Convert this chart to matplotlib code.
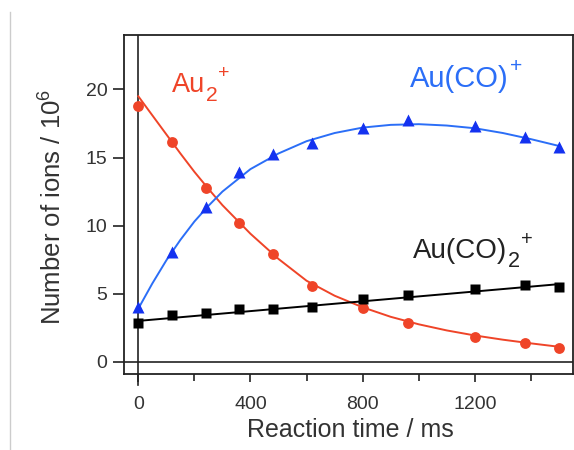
import matplotlib
matplotlib.use("Agg")
import matplotlib.pyplot as plt
from matplotlib.lines import Line2D
import matplotlib.transforms as mtransforms

plt.rcParams['font.family'] = ['Liberation Sans', 'DejaVu Sans']
plt.rcParams['mathtext.fontset'] = 'custom'
plt.rcParams['mathtext.rm'] = 'Liberation Sans'
plt.rcParams['mathtext.it'] = 'Liberation Sans:italic'
plt.rcParams['mathtext.bf'] = 'Liberation Sans:bold'

# measured data (reaction time in ms, number of ions / 1e6)
t_meas = [0, 120, 240, 360, 480, 620, 800, 960, 1200, 1380, 1500]
au2 = [18.75, 16.13, 12.75, 10.17, 7.92, 5.59, 3.92, 2.87, 1.84, 1.35, 1.03]
auco = [4.04, 8.09, 11.35, 13.97, 15.25, 16.06, 17.16, 17.72, 17.28, 16.54, 15.81]
auco2 = [2.87, 3.43, 3.56, 3.85, 3.85, 4.00, 4.63, 4.93, 5.32, 5.62, 5.47]

# fit curves
t_fit = [0, 50, 100, 150, 200, 250, 300, 400, 500, 600, 700, 800, 900, 1000, 1100, 1200, 1300, 1400, 1500]
au2_fit = [19.5, 18.1, 16.7, 15.3, 13.95, 12.7, 11.5, 9.4, 7.55, 5.95, 4.85, 4.0, 3.3, 2.75, 2.3, 1.93, 1.62, 1.35, 1.1]
auco_fit = [3.9, 5.75, 7.45, 8.95, 10.3, 11.45, 12.5, 14.15, 15.3, 16.2, 16.8, 17.2, 17.4, 17.45, 17.35, 17.15, 16.8, 16.35, 15.85]
t_lin = [0, 1500]
auco2_fit = [3.0, 5.7]

x_major = [0, 400, 800, 1200]
x_minor = [200, 600, 1000, 1400]
y_major = [0, 5, 10, 15, 20]

RED = '#ef4428'
BLUE_M = '#1432f0'
BLUE_L = '#2b6ef7'
DARK = '#222222'

fig = plt.figure(figsize=(5.74, 4.5), dpi=100)
ax = fig.add_axes([124/574, 1-374/450, (573-124)/574, (374-35)/450])

ax.axhline(0, color=DARK, lw=1.2, zorder=1)
ax.axvline(0, color=DARK, lw=1.2, zorder=1)
trans = mtransforms.blended_transform_factory(ax.transData, ax.transAxes)
ax.add_line(Line2D([0, 0], [0, -11/339], transform=trans, color=DARK, lw=1.2, clip_on=False))

ax.plot(t_fit, au2_fit, color=RED, lw=1.4, zorder=2)
ax.plot(t_fit, auco_fit, color=BLUE_L, lw=1.4, zorder=2)
ax.plot(t_lin, auco2_fit, color='black', lw=1.4, zorder=2)

ax.plot(t_meas, au2, 'o', color=RED, ms=7.8, mec='none', zorder=3)
ax.plot(t_meas, auco, '^', color=BLUE_M, ms=8.3, mec='none', zorder=3)
ax.plot(t_meas, auco2, 's', color='black', ms=7.6, mec='none', zorder=3)

ax.set_xlim(-51, 1550)
ax.set_ylim(-0.9, 24.0)
ax.set_xticks(x_major)
ax.set_xticks(x_minor, minor=True)
ax.set_yticks(y_major)
ax.tick_params(axis='both', which='major', labelsize=14, color=DARK, labelcolor='#333333',
               width=1.2, direction='out')
ax.tick_params(axis='y', which='major', length=8, pad=4)
ax.tick_params(axis='x', which='major', length=6, pad=10)
ax.tick_params(axis='x', which='minor', length=5, width=1.2, color=DARK)
for s in ax.spines.values():
    s.set_linewidth(1.3)
    s.set_color(DARK)

fig.text(350/574, 1-430/450, 'Reaction time / ms', fontsize=18, ha='center', va='center', color='#333333')
fig.text(53/574, 1-207/450, 'Number of ions / 10$^{6}$', fontsize=18.5, ha='center', va='center',
         rotation=90, color='#333333')


def species_label(x, y, main, sub, color, fs):
    t = ax.text(x, y, main, fontsize=fs, color=color, ha='left', va='baseline')
    last = t
    if sub:
        last = ax.annotate(sub, xy=(1, 0), xycoords=t, xytext=(0.3, -0.12 * fs),
                           textcoords='offset points', fontsize=0.78 * fs, color=color,
                           ha='left', va='baseline')
    ax.annotate('+', xy=(1, 0), xycoords=(last, t), xytext=(0.04 * fs, 0.9 * fs),
                textcoords='offset points', fontsize=0.72 * fs, color=color,
                ha='left', va='center')


species_label(120, 19.83, 'Au', '2', RED, 19.5)
species_label(968, 20.2, 'Au(CO)', None, BLUE_L, 21)
species_label(979, 7.62, 'Au(CO)', '2', DARK, 20)

fig.add_artist(Line2D([10/574, 10/574], [0, 1-12/450], transform=fig.transFigure,
                      color='#cccccc', lw=1.0))

fig.savefig('out.png', dpi=100)
